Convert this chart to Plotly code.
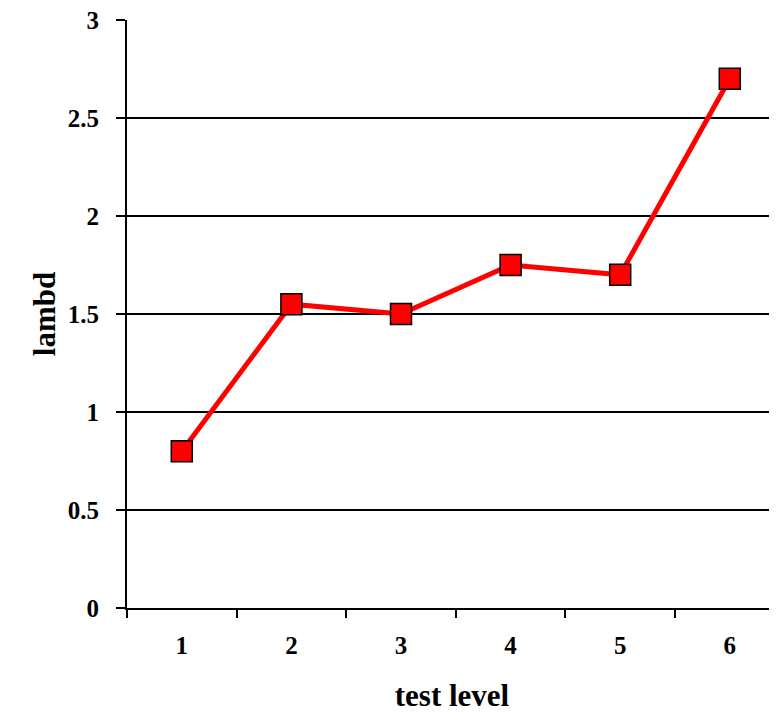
import plotly.graph_objects as go

levels = [1, 2, 3, 4, 5, 6]
lambd = [0.8, 1.55, 1.5, 1.75, 1.7, 2.7]
y_ticks = [0, 0.5, 1, 1.5, 2, 2.5, 3]
y_labels = ["0", "0.5", "1", "1.5", "2", "2.5", "3"]

FONT = "Liberation Serif"
PLOT_W = 650

fig = go.Figure()
fig.add_trace(go.Scatter(
    x=levels, y=lambd, mode="lines+markers",
    line=dict(color="#ff0000", width=5),
    marker=dict(symbol="square", size=21, color="#ff0000",
                line=dict(color="black", width=1.5)),
    showlegend=False,
))

fig.update_layout(
    width=119 + PLOT_W, height=708,
    margin=dict(l=119, r=0, t=12, b=108),
    paper_bgcolor="white", plot_bgcolor="white",
    font=dict(family=FONT, color="black"),
    xaxis=dict(
        range=[0.5, 0.5 + PLOT_W / 109.6],
        tickvals=levels, ticktext=[str(v) for v in levels],
        ticks="", showgrid=False, zeroline=False,
        showline=True, linecolor="black", linewidth=2,
        tickfont=dict(size=25, family=FONT, weight="bold"),
        ticklabelstandoff=14, ticklabeloverflow="allow",
        minor=dict(tick0=0.5, dtick=1, ticks="outside", ticklen=8,
                   tickcolor="black", tickwidth=2, showgrid=False),
        title=dict(text="test level", font=dict(size=31, family=FONT, weight="bold"),
                   standoff=26),
    ),
    yaxis=dict(
        range=[0, 3], tickvals=y_ticks, ticktext=y_labels,
        ticks="outside", ticklen=9, tickcolor="black", tickwidth=2,
        showgrid=True, gridcolor="black", gridwidth=2,
        zeroline=False, showline=True, linecolor="black", linewidth=2,
        tickfont=dict(size=25, family=FONT, weight="bold"),
        ticklabelstandoff=12, ticklabeloverflow="allow",
        title=dict(text="lambd", font=dict(size=31, family=FONT, weight="bold"),
                   standoff=3),
    ),
)

fig.write_html("out.html")
